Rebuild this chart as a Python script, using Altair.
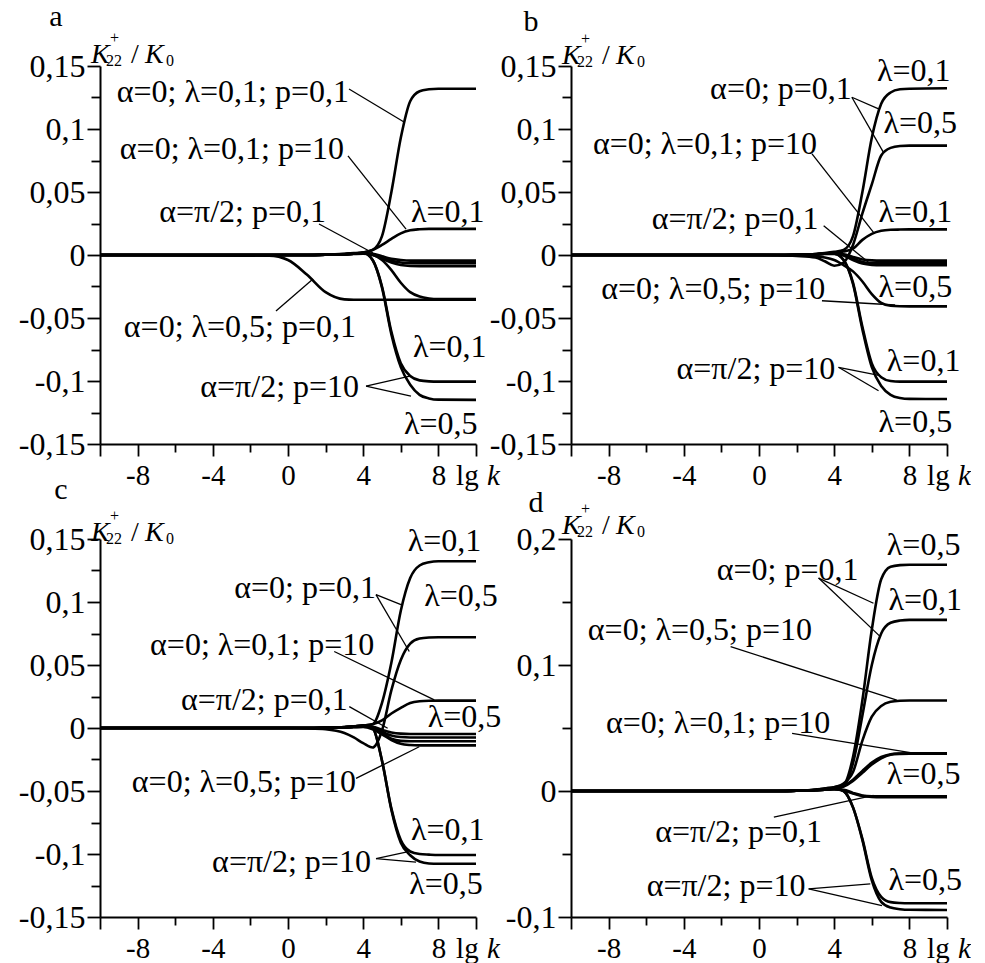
import altair as alt
import pandas as pd

FONT = "Liberation Serif"
W, H = 376, 378
PXX = W / 20.0  # px per lg k unit

# ---------------- data ----------------
X = [-10, -1, 0, 1, 2, 3, 3.5, 4, 4.5, 5, 5.5, 6, 6.5, 7, 7.5, 8, 10]

# panel a
A1 = [0, 0, 0, 0, 0.0003, 0.001, 0.0015, 0.002, 0.004, 0.015, 0.05, 0.093, 0.122, 0.13, 0.1315, 0.132, 0.132]
A2 = [0, -0.0005, -0.004, -0.0155, -0.0295, -0.0352, -0.0355, -0.0355, -0.0355, -0.0355, -0.0355, -0.0355, -0.0355, -0.0355, -0.0355, -0.0355, -0.0355]
A3 = [0, 0, 0, 0, 0.0002, 0.0008, 0.0012, 0.002, 0.004, 0.008, 0.0128, 0.0172, 0.0196, 0.0204, 0.0207, 0.0207, 0.0207]
A4 = [0, 0, 0, 0, 0.0002, 0.0006, 0.001, 0.0012, 0.0002, -0.004, -0.012, -0.022, -0.0295, -0.033, -0.0345, -0.035, -0.035]
A5 = [0, 0, 0, 0, 0.0002, 0.0006, 0.001, 0.0015, 0.001, -0.001, -0.003, -0.004, -0.0045, -0.0045, -0.0045, -0.0045, -0.0045]
A6 = [0, 0, 0, 0, 0.0002, 0.0006, 0.001, 0.0015, 0.0005, -0.002, -0.0045, -0.006, -0.0065, -0.0066, -0.0066, -0.0066, -0.0066]
A7 = [0, 0, 0, 0, 0.0002, 0.0005, 0.0008, 0.001, 0.0, -0.003, -0.006, -0.008, -0.0087, -0.0088, -0.0088, -0.0088, -0.0088]
A8 = [0, 0, 0, 0, 0.0002, 0.0006, 0.001, 0.0018, -0.004, -0.025, -0.061, -0.086, -0.096, -0.0995, -0.1003, -0.1005, -0.1005]
A9 = [0, 0, 0, 0, 0.0002, 0.0006, 0.001, 0.0018, -0.004, -0.026, -0.063, -0.089, -0.103, -0.111, -0.1138, -0.1148, -0.115]

# panel b
B1 = [0, 0, 0, 0, 0.0003, 0.0008, 0.0015, 0.0025, 0.004, 0.015, 0.05, 0.093, 0.12, 0.129, 0.1315, 0.132, 0.1323]
B2 = [0, 0, 0, -0.0002, -0.0008, -0.002, -0.005, -0.0085, -0.006, 0.008, 0.033, 0.056, 0.079, 0.085, 0.0865, 0.0868, 0.0868]
B3 = [0, 0, 0, 0, 0.0002, 0.0007, 0.0012, 0.002, 0.0028, 0.005, 0.012, 0.0168, 0.0192, 0.02, 0.0202, 0.0203, 0.0203]
B4 = [0, 0, 0, 0, -0.0002, -0.001, -0.002, -0.004, -0.008, -0.013, -0.021, -0.031, -0.038, -0.0403, -0.0407, -0.0408, -0.0408]
B5 = [0, 0, 0, 0, 0.0002, 0.0006, 0.001, 0.0012, 0.0005, -0.0015, -0.0035, -0.0043, -0.0045, -0.0045, -0.0045, -0.0045, -0.0045]
B6 = [0, 0, 0, 0, 0.0002, 0.0006, 0.001, 0.001, 0.0, -0.003, -0.0055, -0.0063, -0.0064, -0.0064, -0.0064, -0.0064, -0.0064]
B7 = [0, 0, 0, 0, 0.0002, 0.0005, 0.0008, 0.0008, -0.0005, -0.004, -0.0068, -0.0078, -0.008, -0.008, -0.008, -0.008, -0.008]
B8 = [0, 0, 0, 0, 0.0002, 0.0006, 0.001, 0.001, -0.004, -0.022, -0.057, -0.086, -0.097, -0.1, -0.1005, -0.1005, -0.1005]
B9 = [0, 0, 0, 0, 0.0002, 0.0006, 0.001, 0.001, -0.004, -0.023, -0.059, -0.089, -0.104, -0.111, -0.1135, -0.1142, -0.1143]

# panel c
C1 = [0, 0, 0, 0, 0.0003, 0.0008, 0.0013, 0.002, 0.003, 0.02, 0.052, 0.093, 0.119, 0.129, 0.1315, 0.1323, 0.1324]
C2 = [0, 0, 0, -0.0003, -0.001, -0.004, -0.0075, -0.012, -0.0155, -0.002, 0.03, 0.054, 0.067, 0.071, 0.0718, 0.072, 0.072]
C3 = [0, 0, 0, 0, 0.0002, 0.0007, 0.0012, 0.002, 0.003, 0.006, 0.0115, 0.016, 0.0198, 0.0212, 0.0216, 0.0217, 0.0217]
C4 = [0, 0, 0, 0, 0.0001, 0.0004, 0.0006, 0.0008, -0.001, -0.005, -0.0095, -0.0125, -0.0135, -0.0138, -0.0138, -0.0138, -0.0138]
C5 = [0, 0, 0, 0, 0.0002, 0.0006, 0.001, 0.0015, 0.001, -0.0015, -0.0035, -0.0045, -0.0048, -0.0048, -0.0048, -0.0048, -0.0048]
C6 = [0, 0, 0, 0, 0.0002, 0.0006, 0.001, 0.0012, 0.0005, -0.003, -0.006, -0.0072, -0.0075, -0.0075, -0.0075, -0.0075, -0.0075]
C7 = [0, 0, 0, 0, 0.0002, 0.0005, 0.0008, 0.001, 0.0, -0.004, -0.0085, -0.0102, -0.0105, -0.0105, -0.0105, -0.0105, -0.0105]
C8 = [0, 0, 0, 0, 0.0002, 0.0006, 0.001, 0.002, 0.0, -0.026, -0.064, -0.089, -0.098, -0.1, -0.1005, -0.1008, -0.1008]
C9 = [0, 0, 0, 0, 0.0002, 0.0006, 0.001, 0.002, 0.0, -0.026, -0.065, -0.091, -0.101, -0.106, -0.1075, -0.1077, -0.1077]

# panel d
D1 = [0, 0, 0, 0, 0.0003, 0.001, 0.002, 0.003, 0.005, 0.027, 0.072, 0.128, 0.168, 0.178, 0.1793, 0.1796, 0.1796]
D2 = [0, 0, 0, 0, 0.0003, 0.001, 0.0018, 0.0025, 0.004, 0.022, 0.06, 0.1, 0.125, 0.1335, 0.1353, 0.1358, 0.1358]
D3 = [0, 0, 0, 0, 0.0002, 0.001, 0.002, 0.003, 0.006, 0.015, 0.04, 0.059, 0.0675, 0.0708, 0.0716, 0.0718, 0.0718]
D4 = [0, 0, 0, 0, 0.0002, 0.0008, 0.0014, 0.002, 0.004, 0.009, 0.016, 0.0225, 0.027, 0.0292, 0.0298, 0.03, 0.03]
D5 = [0, 0, 0, 0, 0.0002, 0.0008, 0.0014, 0.002, 0.0035, 0.008, 0.0145, 0.021, 0.026, 0.0288, 0.0295, 0.0297, 0.0297]
D6 = [0, 0, 0, 0, 0.0002, 0.0006, 0.001, 0.0015, 0.001, -0.0015, -0.0035, -0.0042, -0.0043, -0.0043, -0.0043, -0.0043, -0.0043]
D7 = [0, 0, 0, 0, 0.0002, 0.0006, 0.001, 0.0012, 0.0005, -0.002, -0.004, -0.0048, -0.005, -0.005, -0.005, -0.005, -0.005]
D8 = [0, 0, 0, 0, 0.0002, 0.0006, 0.001, 0.002, 0.0, -0.013, -0.038, -0.069, -0.084, -0.0882, -0.0889, -0.0891, -0.0891]
D9 = [0, 0, 0, 0, 0.0002, 0.0006, 0.001, 0.002, 0.0, -0.013, -0.039, -0.071, -0.088, -0.0925, -0.0938, -0.0943, -0.0944]

# axis ticks and labels
X_TICKS = [-10, -8, -6, -4, -2, 0, 2, 4, 6, 8, 10]
X_LABELED = [-8, -4, 0, 4, 8]
X_LABELS = ["-8", "-4", "0", "4", "8"]
X_LONG = [-10, -8, -4, 0, 4, 8, 10]

Y_TICKS_ABC = [-0.15, -0.125, -0.1, -0.075, -0.05, -0.025, 0, 0.025, 0.05, 0.075, 0.1, 0.125, 0.15]
Y_LABELED_ABC = [0.15, 0.1, 0.05, 0, -0.05, -0.1, -0.15]
Y_LABELS_ABC = ["0,15", "0,1", "0,05", "0", "-0,05", "-0,1", "-0,15"]
Y_TICKS_D = [-0.1, -0.05, 0, 0.05, 0.1, 0.15, 0.2]
Y_LABELED_D = [0.2, 0.1, 0, -0.1]
Y_LABELS_D = ["0,2", "0,1", "0", "-0,1"]

# annotations: (text, x, y, align) and leader lines (x1, y1, x2, y2)
A_NOTES = [
    ("α=0; λ=0,1; p=0,1", 3.245, 0.1294, "right"),
    ("α=0; λ=0,1; p=10", 2.98, 0.0841, "right"),
    ("α=π/2; p=0,1", 2.02, 0.0341, "right"),
    ("α=0; λ=0,5; p=0,1", 3.62, -0.0571, "right"),
    ("α=π/2; p=10", 3.78, -0.1048, "right"),
    ("λ=0,1", 6.54, 0.0341, "left"),
    ("λ=0,1", 6.65, -0.073, "left"),
    ("λ=0,5", 6.17, -0.134, "left"),
]
A_LEAD = [
    (3.245, 0.1317, 6.17, 0.1056),
    (3.19, 0.0786, 6.28, 0.0206),
    (1.65, 0.0246, 4.52, 0.0016),
    (-0.64, -0.0444, 1.33, -0.019),
    (4.15, -0.104, 6.54, -0.096),
    (4.15, -0.104, 6.54, -0.112),
]
B_NOTES = [
    ("α=0; p=0,1", 4.94, 0.1317, "right"),
    ("α=0; λ=0,1; p=10", 3.09, 0.0881, "right"),
    ("α=π/2; p=0,1", 3.17, 0.0286, "right"),
    ("α=0; λ=0,5; p=10", 3.53, -0.027, "right"),
    ("α=π/2; p=10", 4.06, -0.0905, "right"),
    ("λ=0,1", 6.27, 0.146, "left"),
    ("λ=0,5", 6.62, 0.105, "left"),
    ("λ=0,1", 6.36, 0.0339, "left"),
    ("λ=0,5", 6.36, -0.0256, "left"),
    ("λ=0,1", 6.8, -0.0839, "left"),
    ("λ=0,5", 6.36, -0.1328, "left"),
]
B_LEAD = [
    (4.94, 0.1252, 6.36, 0.1159),
    (4.94, 0.1252, 6.62, 0.0815),
    (2.82, 0.0802, 6.09, 0.018),
    (3.44, 0.0233, 5.82, -0.0058),
    (3.35, -0.0363, 7.24, -0.0397),
    (4.23, -0.0891, 6.45, -0.0958),
    (4.23, -0.0891, 6.36, -0.1077),
]
C_NOTES = [
    ("α=0; p=0,1", 4.68, 0.1112, "right"),
    ("α=0; λ=0,1; p=10", 4.59, 0.0661, "right"),
    ("α=π/2; p=0,1", 3.18, 0.0223, "right"),
    ("α=0; λ=0,5; p=10", 3.62, -0.0427, "right"),
    ("α=π/2; p=10", 4.41, -0.1064, "right"),
    ("λ=0,1", 6.37, 0.1483, "left"),
    ("λ=0,5", 7.25, 0.1045, "left"),
    ("λ=0,5", 7.43, 0.009, "left"),
    ("λ=0,1", 6.54, -0.0812, "left"),
    ("λ=0,5", 6.45, -0.1237, "left"),
]
C_LEAD = [
    (4.68, 0.1059, 6.01, 0.0979),
    (4.68, 0.1059, 6.45, 0.0607),
    (2.46, 0.0607, 7.78, 0.0223),
    (3.26, 0.017, 5.3, -0.0002),
    (3.62, -0.04, 6.98, -0.0149),
    (4.68, -0.1037, 6.28, -0.0985),
    (4.68, -0.1037, 6.81, -0.1064),
]
D_NOTES = [
    ("α=0; p=0,1", 5.29, 0.1756, "right"),
    ("α=0; λ=0,5; p=10", 2.82, 0.1278, "right"),
    ("α=0; λ=0,1; p=10", 3.79, 0.0536, "right"),
    ("α=π/2; p=0,1", 3.35, -0.0326, "right"),
    ("α=π/2; p=10", 2.47, -0.075, "right"),
    ("λ=0,5", 6.8, 0.1955, "left"),
    ("λ=0,1", 6.89, 0.1517, "left"),
    ("λ=0,5", 6.8, 0.0138, "left"),
    ("λ=0,5", 6.89, -0.071, "left"),
]
D_LEAD = [
    (3.17, 0.169, 6.09, 0.149),
    (3.17, 0.169, 6.45, 0.1225),
    (-1.51, 0.1146, 7.33, 0.0722),
    (1.76, 0.0457, 8.30, 0.0298),
    (0.79, -0.0207, 6.09, -0.0034),
    (2.64, -0.0776, 5.92, -0.0737),
    (2.64, -0.0776, 6.54, -0.0909),
]


def label_expr(vals, labels):
    parts = [f"datum.value == {v!r} ? '{l}'" for v, l in zip(vals, labels)]
    return " : ".join(parts) + " : ''"


def panel(curves, notes, leads, ydom, yticks, ylab_vals, ylabs, letter, letter_dx, letter_dy, td):
    pxy = H / (ydom[1] - ydom[0])
    top, bot = ydom[1], ydom[0]
    rows = []
    for i, ys in enumerate(curves):
        for xv, yv in zip(X, ys):
            rows.append({"c": i, "x": xv, "y": yv})
    df = pd.DataFrame(rows)

    xsc = alt.Scale(domain=[-10, 10], nice=False, zero=False)
    ysc = alt.Scale(domain=list(ydom), nice=False, zero=False)
    xaxis = alt.Axis(
        values=X_TICKS, labelExpr=label_expr(X_LABELED, X_LABELS), title=None, grid=False,
        domainColor="black", domainWidth=2, tickColor="black", tickWidth=1.8,
        tickSize={"condition": {"test": f"indexof({X_LONG}, datum.value) >= 0", "value": 12}, "value": 8},
        labelFont=FONT, labelFontSize=29, labelColor="black", labelPadding=5,
        labelFlush=False, labelOverlap=False, labelBound=False,
    )
    yaxis = alt.Axis(
        values=yticks, labelExpr=label_expr(ylab_vals, ylabs), title=None, grid=False,
        domainColor="black", domainWidth=2, tickColor="black", tickWidth=1.8,
        tickSize={"condition": {"test": f"indexof({ylab_vals}, datum.value) >= 0", "value": 13}, "value": 9},
        labelFont=FONT, labelFontSize=32, labelColor="black", labelPadding=2,
        labelFlush=False, labelOverlap=False, labelBound=False,
    )

    def ex(f):
        return alt.X(f, type="quantitative", scale=xsc, axis=xaxis)

    def ey(f):
        return alt.Y(f, type="quantitative", scale=ysc, axis=yaxis)

    lines = alt.Chart(df).mark_line(interpolate="monotone", color="black", strokeWidth=2.6).encode(
        x=ex("x"), y=ey("y"), detail="c:N"
    )
    ldf = pd.DataFrame(leads, columns=["x1", "y1", "x2", "y2"])
    rules = alt.Chart(ldf).mark_rule(color="black", strokeWidth=1.3).encode(
        x=ex("x1"), y=ey("y1"), x2="x2:Q", y2="y2:Q"
    )
    ndf = pd.DataFrame(notes, columns=["t", "x", "y", "al"])
    layers = [lines, rules]
    for al in ["right", "left"]:
        sub = ndf[ndf["al"] == al]
        layers.append(
            alt.Chart(sub).mark_text(align=al, baseline="middle", font=FONT, fontSize=32, color="black").encode(
                x=ex("x"), y=ey("y"), text="t:N"
            )
        )

    # y-axis title K22+/K0, panel letter and "lg k"
    def piece(txt, dx_px, dy_px, fs, style="normal", baseline="alphabetic", align="left"):
        d = pd.DataFrame([{"t": txt, "x": -10 + dx_px / PXX, "y": top + dy_px / pxy}])
        return alt.Chart(d).mark_text(
            align=align, baseline=baseline, font=FONT, fontSize=fs, fontStyle=style, color="black"
        ).encode(x=ex("x"), y=ey("y"), text="t:N")

    layers += [
        piece("K", -9, td, 28, "italic"),
        piece("22", 6, td - 3, 16),
        piece("+", 10, td + 25, 16, baseline="middle"),
        piece("/", 31, td, 28),
        piece("K", 45, td, 28, "italic"),
        piece("0", 66, td - 3, 16),
        piece(letter, letter_dx, letter_dy, 30, align="center"),
    ]
    yb = bot - 41 / pxy
    layers.append(
        alt.Chart(pd.DataFrame([{"t": "lg", "x": 8.94, "y": yb}])).mark_text(
            align="left", baseline="alphabetic", font=FONT, fontSize=29, color="black"
        ).encode(x=ex("x"), y=ey("y"), text="t:N")
    )
    layers.append(
        alt.Chart(pd.DataFrame([{"t": "k", "x": 10.58, "y": yb}])).mark_text(
            align="left", baseline="alphabetic", font=FONT, fontSize=29, fontStyle="italic", color="black"
        ).encode(x=ex("x"), y=ey("y"), text="t:N")
    )
    return alt.layer(*layers).properties(width=W, height=H)


pa = panel([A1, A2, A3, A4, A5, A6, A7, A8, A9], A_NOTES, A_LEAD, (-0.15, 0.15),
           Y_TICKS_ABC, Y_LABELED_ABC, Y_LABELS_ABC, "a", -44, 40, 3)
pb = panel([B1, B2, B3, B4, B5, B6, B7, B8, B9], B_NOTES, B_LEAD, (-0.15, 0.15),
           Y_TICKS_ABC, Y_LABELED_ABC, Y_LABELS_ABC, "b", -40, 35, 2)
pc = panel([C1, C2, C3, C4, C5, C6, C7, C8, C9], C_NOTES, C_LEAD, (-0.15, 0.15),
           Y_TICKS_ABC, Y_LABELED_ABC, Y_LABELS_ABC, "c", -39, 40, -2)
pd_ = panel([D1, D2, D3, D4, D5, D6, D7, D8, D9], D_NOTES, D_LEAD, (-0.1, 0.2),
            Y_TICKS_D, Y_LABELED_D, Y_LABELS_D, "d", -35, 27, 5)

chart = alt.concat(pa, pb, pc, pd_, columns=2, spacing=95, bounds="flush").configure_view(
    stroke=None
).properties(
    padding={"left": 10, "top": -6, "right": 0, "bottom": 0}, background="white"
)

chart.save("out.html", embed_options={"renderer": "svg", "actions": False})
